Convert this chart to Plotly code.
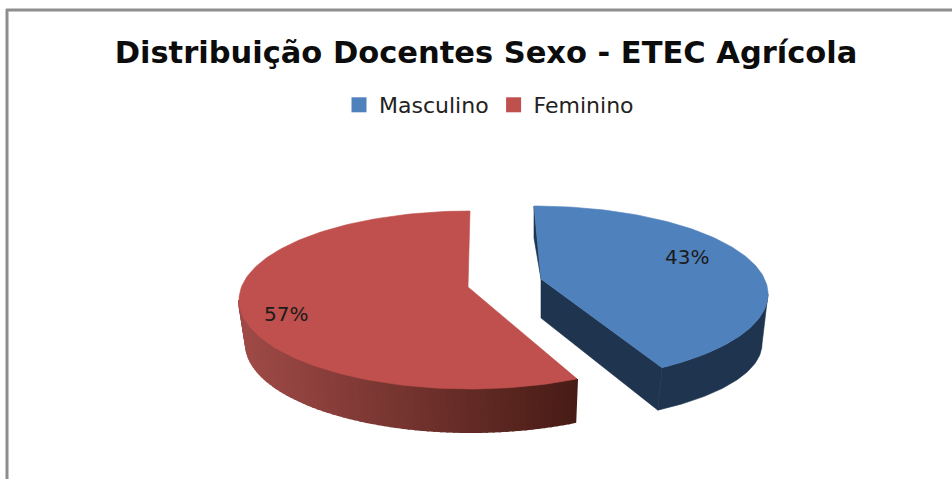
import numpy as np
import plotly.graph_objects as go

TITLE = "Distribuição Docentes Sexo - ETEC Agrícola"
categories = ["Masculino", "Feminino"]
values = [43, 57]
top_colors = ["#4F81BD", "#C0504D"]
BLUE_SIDE = "#1F344F"
RED_SIDE_LIGHT = np.array([160, 75, 72])
RED_SIDE_DARK = np.array([72, 28, 22])

# projection of the tilted, exploded pie on to the page (pixel axes)
FORESHORTEN = [0.72, 0.90]
BLUE_UP = dict(cx=534, cy=294, rx=234, ry=88)
BLUE_LOW = dict(cx=532, cy=344, rx=230, ry=79)
RED_UP = dict(cx=470, cy=300, rx=231, ry=89)
RED_LOW = dict(cx=471, cy=344, rx=225, ry=88)
BLUE_APEX, BLUE_APEX_LOW = (541, 279), (541, 318)
RED_APEX = (468, 287)


def sweep_end(value, k):
    a = np.radians(value / sum(values) * 360)
    return np.arctan2(np.sin(a), np.cos(a) * k)


def pt(e, t):
    t = np.asarray(t)
    return e["cx"] + e["rx"] * np.sin(t), e["cy"] - e["ry"] * np.cos(t)


fig = go.Figure()


def poly(xs, ys, color, lw=0.6):
    fig.add_trace(go.Scatter(
        x=list(xs), y=list(ys), mode="lines", fill="toself", fillcolor=color,
        line=dict(color=color, width=lw), hoverinfo="skip", showlegend=False))


# ---- Feminino (red): side band with horizontal gradient, then top face
# angle: 0 = top, clockwise; the tip is where the blue share ends
t_red = sweep_end(values[0], FORESHORTEN[1])
n = 70
edges = np.linspace(t_red, np.radians(270), n + 1)
xtip = float(pt(RED_UP, t_red)[0])
xleft = float(pt(RED_UP, np.radians(270))[0])
for i in range(n):
    seg = edges[i:i + 2]
    ux, uy = pt(RED_UP, seg)
    lx, ly = pt(RED_LOW, seg)
    f = (xtip - float(ux.mean())) / (xtip - xleft)
    c = RED_SIDE_DARK + (RED_SIDE_LIGHT - RED_SIDE_DARK) * f
    col = "rgb(%d,%d,%d)" % tuple(c)
    poly(list(ux) + list(lx[::-1]) + [ux[0]], list(uy) + list(ly[::-1]) + [uy[0]], col, lw=2)

arc = np.linspace(t_red, np.radians(360), 160)
ax, ay = pt(RED_UP, arc)
poly([RED_APEX[0]] + list(ax) + [RED_APEX[0]], [RED_APEX[1]] + list(ay) + [RED_APEX[1]], top_colors[1])

# ---- Masculino (blue): walls, then top face
t_blue = sweep_end(values[0], FORESHORTEN[0])
band = np.linspace(np.radians(90), t_blue, 80)
ux, uy = pt(BLUE_UP, band)
lx, ly = pt(BLUE_LOW, band)
poly(list(ux) + list(lx[::-1]) + [ux[0]], list(uy) + list(ly[::-1]) + [uy[0]], BLUE_SIDE)
tipx, tipy = pt(BLUE_UP, t_blue)
tiplx, tiply = pt(BLUE_LOW, t_blue)
poly([BLUE_APEX[0], BLUE_APEX_LOW[0], float(tiplx), float(tipx), BLUE_APEX[0]],
     [BLUE_APEX[1], BLUE_APEX_LOW[1], float(tiply), float(tipy), BLUE_APEX[1]], BLUE_SIDE)
sx, sy = pt(BLUE_UP, 0.0)
poly([float(sx), float(sx), BLUE_APEX[0], float(sx)],
     [float(sy), float(sy) + 32, BLUE_APEX[1], float(sy)], BLUE_SIDE)
arc = np.linspace(0, t_blue, 140)
ax, ay = pt(BLUE_UP, arc)
poly([BLUE_APEX[0]] + list(ax) + [BLUE_APEX[0]], [BLUE_APEX[1]] + list(ay) + [BLUE_APEX[1]], top_colors[0])

# ---- legend entries
for name, col in zip(categories, top_colors):
    fig.add_trace(go.Scatter(
        x=[None], y=[None], mode="markers", name=name,
        marker=dict(symbol="square", size=15, color=col), hoverinfo="skip"))

# ---- percentage labels
label_pos = [(687, 257), (286, 314)]
for v, (x, y) in zip(values, label_pos):
    fig.add_annotation(x=x, y=y, text=f"{v}%", showarrow=False,
                       font=dict(family="DejaVu Sans", size=20, color="#1b1b1b"))

fig.update_layout(
    width=952, height=479,
    margin=dict(l=0, r=0, t=0, b=0),
    paper_bgcolor="white", plot_bgcolor="white",
    xaxis=dict(range=[0, 952], visible=False, fixedrange=True),
    yaxis=dict(range=[479, 0], visible=False, fixedrange=True),
    title=dict(text=TITLE, x=486 / 952, xanchor="center", y=1 - 52 / 479, yanchor="middle",
               font=dict(family="DejaVu Sans", size=30.5, color="#0c0c0c", weight="bold")),
    legend=dict(orientation="h", x=489 / 952, xanchor="center", y=1 - 105 / 479, yanchor="middle",
                font=dict(family="DejaVu Sans", size=22, color="#222222"),
                bgcolor="rgba(0,0,0,0)", itemclick=False, itemdoubleclick=False),
    shapes=[
        dict(type="line", xref="paper", yref="paper", x0=7 / 952, x1=7 / 952, y0=0, y1=1 - 9 / 479,
             line=dict(color="#8e8e8e", width=3)),
        dict(type="line", xref="paper", yref="paper", x0=6 / 952, x1=1, y0=1 - 10 / 479, y1=1 - 10 / 479,
             line=dict(color="#8e8e8e", width=3)),
    ],
)
fig.write_html("out.html", config=dict(displayModeBar=False),
               post_script="document.body.style.margin='0';document.documentElement.style.overflow='hidden';")
